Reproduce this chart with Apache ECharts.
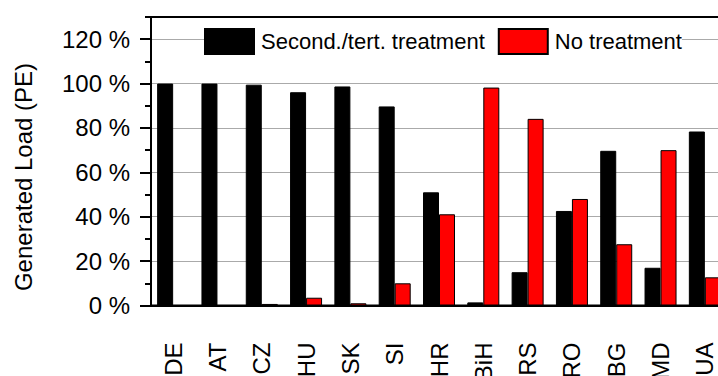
<!DOCTYPE html>
<html>
<head>
<meta charset="utf-8">
<script src="https://cdn.jsdelivr.net/npm/echarts@6/dist/echarts.min.js"></script>
<style>
html,body{margin:0;padding:0;background:#fff;}
#chart{width:718px;height:376px;}
</style>
</head>
<body>
<div id="chart"></div>
<script>
var countries = ['DE','AT','CZ','HU','SK','SI','HR','BiH','RS','RO','BG','MD','UA'];
var secondaryTertiary = [100, 100, 99.5, 96.1, 98.7, 89.7, 51.0, 1.4, 15.0, 42.6, 69.7, 17.0, 78.4];
var noTreatment = [0, 0, 0.7, 3.5, 1.0, 10.0, 41.1, 98.2, 84.1, 48.0, 27.6, 70.0, 12.7];
var yMajorTicks = [0, 20, 40, 60, 80, 100, 120];
var seriesNames = ['Second./tert. treatment', 'No treatment'];
var yAxisTitle = 'Generated Load (PE)';

var FONT = "'Liberation Sans', Arial, Helvetica, sans-serif";
var chart = echarts.init(document.getElementById('chart'), null, {renderer: 'svg'});
chart.setOption({
  animation: false,
  backgroundColor: '#fff',
  textStyle: {fontFamily: FONT, color: '#000'},
  grid: {
    left: 151, top: 17, width: 576, height: 288.5,
    outerBoundsMode: 'none', containLabel: false,
    show: true, borderColor: '#000', borderWidth: 2, backgroundColor: 'transparent'
  },
  legend: {
    left: 204, top: 28, padding: 0, itemGap: 13,
    itemWidth: 49, itemHeight: 25, icon: 'rect',
    backgroundColor: '#fff',
    textStyle: {fontSize: 22, fontFamily: FONT, color: '#000', padding: [0, 0, 0, 2]},
    data: seriesNames
  },
  graphic: [{
    type: 'text', x: 23, y: 177, rotation: Math.PI / 2,
    style: {text: yAxisTitle, font: '24px ' + FONT, fill: '#000', textAlign: 'center', textVerticalAlign: 'middle'}
  }],
  xAxis: {
    type: 'category', data: countries,
    axisLine: {lineStyle: {color: '#000', width: 2}},
    axisTick: {alignWithLabel: true, length: 12, lineStyle: {color: '#000', width: 2}},
    axisLabel: {rotate: 90, interval: 0, margin: 37, fontSize: 24, fontFamily: FONT, color: '#000'},
    splitLine: {show: false}
  },
  yAxis: [{
    type: 'value', min: 0, max: 130, interval: 20,
    axisLine: {show: true, lineStyle: {color: '#000', width: 2}},
    axisTick: {show: true, length: 11, customValues: yMajorTicks, lineStyle: {color: '#000', width: 2}},
    axisLabel: {margin: 21, fontSize: 24, fontFamily: FONT, color: '#000',
      customValues: yMajorTicks,
      formatter: function (v) { return v + ' %'; }},
    splitLine: {show: true, lineStyle: {color: '#aaaaaa', width: 1}}
  }, {
    type: 'value', min: 0, max: 130, interval: 10, position: 'left',
    axisLine: {show: false},
    axisTick: {show: true, length: 6, lineStyle: {color: '#000', width: 2}},
    axisLabel: {show: false},
    splitLine: {show: false}
  }],
  series: [{
    name: seriesNames[0], type: 'bar', data: secondaryTertiary, yAxisIndex: 0,
    barWidth: 16, barGap: '0%',
    itemStyle: {color: '#000', borderColor: '#000', borderWidth: 1}
  }, {
    name: seriesNames[1], type: 'bar', data: noTreatment, yAxisIndex: 0,
    barWidth: 16, barGap: '0%',
    itemStyle: {color: '#ff0000', borderColor: '#000', borderWidth: 1}
  }]
});
</script>
</body>
</html>
